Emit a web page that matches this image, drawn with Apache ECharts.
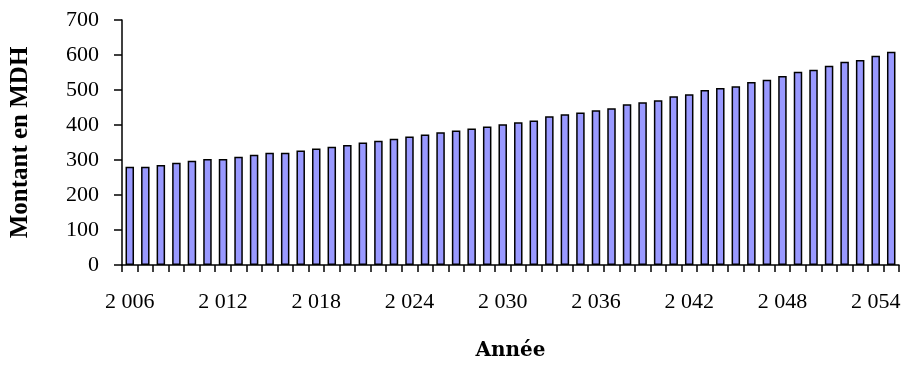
<!DOCTYPE html>
<html>
<head>
<meta charset="utf-8">
<script src="https://cdn.jsdelivr.net/npm/echarts@6/dist/echarts.min.js"></script>
<style>
html,body{margin:0;padding:0;background:#fff;}
#chart{width:905px;height:367px;}
</style>
</head>
<body>
<div id="chart"></div>
<script>
var years = [2006,2007,2008,2009,2010,2011,2012,2013,2014,2015,2016,2017,2018,2019,2020,2021,2022,2023,2024,2025,2026,2027,2028,2029,2030,2031,2032,2033,2034,2035,2036,2037,2038,2039,2040,2041,2042,2043,2044,2045,2046,2047,2048,2049,2050,2051,2052,2053,2054,2055];
var montant = [281,281,286,292,298,303,303,309,315,321,321,327,333,338,343,350,355,361,367,373,379,384,390,396,402,408,413,425,431,436,442,448,459,465,471,482,488,500,506,511,523,529,540,552,558,569,581,586,598,609];
var yTicks = [0,100,200,300,400,500,600,700];

var chart = echarts.init(document.getElementById('chart'), null, {renderer:'canvas'});
function fmtYear(v){ var s = String(v); return s.slice(0, s.length-3) + ' ' + s.slice(-3); }
chart.setOption({
  animation: false,
  backgroundColor: '#ffffff',
  grid: {left: 116, right: 6, top: 20, bottom: 102, containLabel: false},
  xAxis: {
    type: 'category',
    data: years,
    name: 'Année',
    nameLocation: 'middle',
    nameGap: 76,
    nameTextStyle: {fontFamily: 'DejaVu Serif', fontWeight: 'bold', fontSize: 20, color: '#000'},
    axisLine: {lineStyle: {color: '#000', width: 1.5}},
    axisTick: {show: true, interval: 0, length: 7, lineStyle: {color: '#000', width: 1.5}},
    axisLabel: {interval: 5, margin: 26, fontFamily: 'Liberation Serif', fontSize: 22, color: '#000', formatter: function(v){ return fmtYear(v); }},
    splitLine: {show: false}
  },
  yAxis: {
    type: 'value',
    min: yTicks[0],
    max: yTicks[yTicks.length-1],
    interval: 100,
    name: 'Montant en MDH',
    nameLocation: 'middle',
    nameGap: 89,
    nameRotate: 90,
    nameTextStyle: {fontFamily: 'Liberation Serif', fontWeight: 'bold', fontSize: 25, color: '#000'},
    axisLine: {show: true, lineStyle: {color: '#000', width: 1.5}},
    axisTick: {show: true, inside: false, length: 8, lineStyle: {color: '#000', width: 1.5}},
    axisLabel: {margin: 23, fontFamily: 'Liberation Serif', fontSize: 22, color: '#000', padding: [0, 0, 6, 0]},
    splitLine: {show: false}
  },
  series: [{
    type: 'bar',
    data: montant,
    barWidth: 8.5,
    itemStyle: {color: '#9999ff', borderColor: '#000', borderWidth: 1.5}
  }]
});
</script>
</body>
</html>
